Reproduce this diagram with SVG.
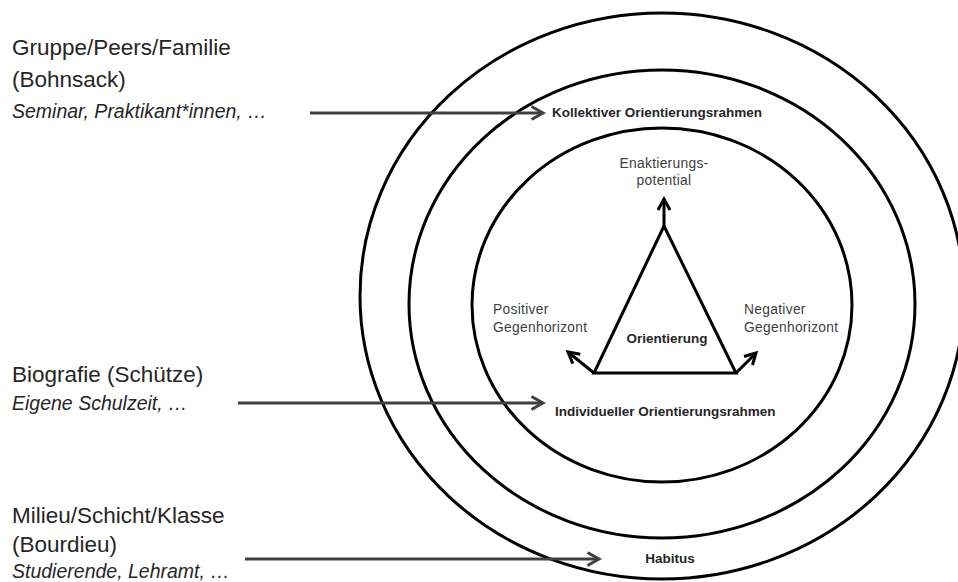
<svg xmlns="http://www.w3.org/2000/svg" width="958" height="582" viewBox="0 0 958 582">
  <style>
    .ring { fill: none; stroke: #000; stroke-width: 3; }
    .src { font-family: "Liberation Sans", Arial, sans-serif; font-size: 22.5px; fill: #262626; }
    .ex { font-family: "Liberation Sans", Arial, sans-serif; font-size: 19.5px; font-style: italic; fill: #262626; }
    .lvl { font-family: "Liberation Sans", Arial, sans-serif; font-size: 13.5px; font-weight: bold; fill: #262626; }
    .pol { font-family: "Liberation Sans", Arial, sans-serif; font-size: 13.8px; fill: #404040; letter-spacing: 0.3px; }
    .gray { fill: none; stroke: #404040; stroke-width: 3; }
    .blk { fill: none; stroke: #000; stroke-width: 3; }
  </style>
  <defs>
    <marker id="ag" viewBox="0 0 16 16" refX="13" refY="8" markerWidth="16" markerHeight="16" markerUnits="userSpaceOnUse" orient="auto">
      <path d="M1.5,1.5 L13,8 L1.5,14.5" fill="none" stroke="#404040" stroke-width="3"/>
    </marker>
    <marker id="ab" viewBox="0 0 16 16" refX="13" refY="8" markerWidth="16" markerHeight="16" markerUnits="userSpaceOnUse" orient="auto">
      <path d="M2,2 L13,8 L2,14" fill="none" stroke="#000" stroke-width="3"/>
    </marker>
  </defs>
  <rect width="958" height="582" fill="#fff"/>

  <g id="habitus">
    <ellipse class="ring" cx="662" cy="296" rx="302" ry="283"/>
    <text class="lvl" x="670" y="563" text-anchor="middle">Habitus</text>
  </g>
  <g id="kollektiv">
    <ellipse class="ring" cx="662" cy="304" rx="253" ry="234"/>
    <text class="lvl" x="552" y="117">Kollektiver Orientierungsrahmen</text>
  </g>
  <g id="individuell">
    <ellipse class="ring" cx="662" cy="305" rx="190" ry="177"/>
    <text class="lvl" x="555" y="416">Individueller Orientierungsrahmen</text>
  </g>
  <g id="orientierung">
    <polygon class="blk" points="664,226 594,373 736,373" stroke-linejoin="miter"/>
    <text class="lvl" x="667" y="343" text-anchor="middle">Orientierung</text>
  </g>
  <g id="enaktierung">
    <text class="pol" x="664" y="168" text-anchor="middle">Enaktierungs-</text>
    <text class="pol" x="664" y="185" text-anchor="middle">potential</text>
  </g>
  <g id="positiv">
    <text class="pol" x="493" y="314">Positiver</text>
    <text class="pol" x="493" y="332">Gegenhorizont</text>
  </g>
  <g id="negativ">
    <text class="pol" x="744" y="314">Negativer</text>
    <text class="pol" x="744" y="332">Gegenhorizont</text>
  </g>

  <g id="gruppe">
    <text class="src" x="12" y="55">Gruppe/Peers/Familie</text>
    <text class="src" x="12" y="87">(Bohnsack)</text>
    <text class="ex" x="12" y="118">Seminar, Praktikant*innen, …</text>
  </g>
  <g id="biografie">
    <text class="src" x="12" y="382">Biografie (Schütze)</text>
    <text class="ex" x="12" y="410">Eigene Schulzeit, …</text>
  </g>
  <g id="milieu">
    <text class="src" x="12" y="523">Milieu/Schicht/Klasse</text>
    <text class="src" x="12" y="552">(Bourdieu)</text>
    <text class="ex" x="12" y="578">Studierende, Lehramt, …</text>
  </g>

  <g id="connectors">
    <line class="gray" x1="310" y1="113" x2="543" y2="113" marker-end="url(#ag)"/>
    <line class="gray" x1="238" y1="403" x2="543" y2="403" marker-end="url(#ag)"/>
    <line class="gray" x1="245" y1="559" x2="599" y2="559" marker-end="url(#ag)"/>
    <line class="blk" x1="664" y1="226" x2="664" y2="199" marker-end="url(#ab)"/>
    <line class="blk" x1="594" y1="373" x2="568" y2="352" marker-end="url(#ab)"/>
    <line class="blk" x1="736" y1="373" x2="756" y2="353" marker-end="url(#ab)"/>
  </g>
</svg>
